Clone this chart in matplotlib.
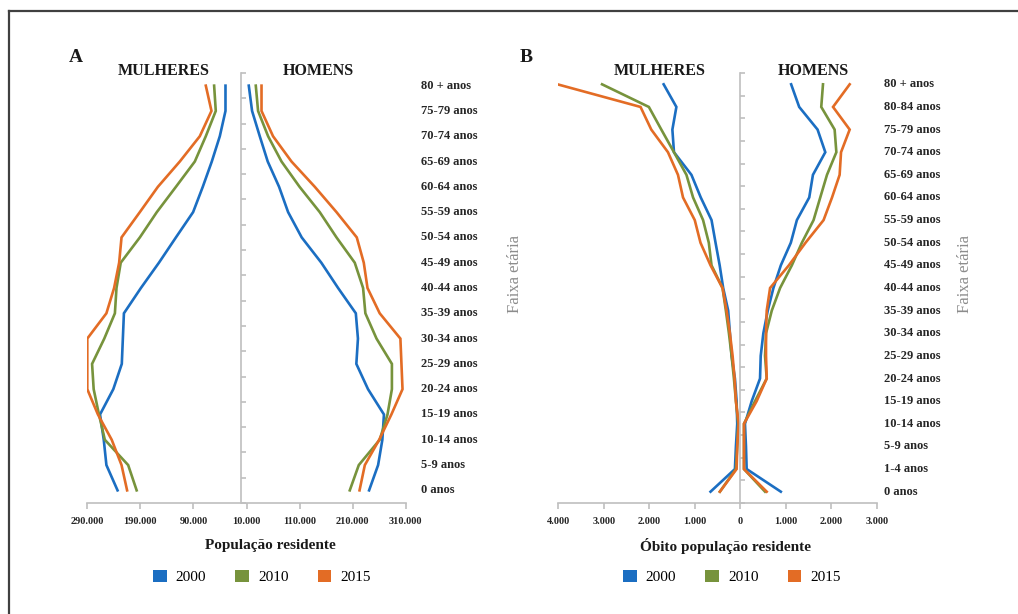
import matplotlib
matplotlib.use("Agg")
import matplotlib.pyplot as plt
from matplotlib.lines import Line2D
from matplotlib.patches import Patch
from matplotlib.ticker import FixedLocator, FuncFormatter
from matplotlib.transforms import blended_transform_factory

plt.rcParams['font.family'] = ['Liberation Serif', 'DejaVu Serif']

years = ['2000', '2010', '2015']
colors = ['#1b6ec2', '#77933c', '#e36c25']

# Panel A: resident population, age groups from bottom to top
ages_a = ['0 anos', '5-9 anos', '10-14 anos', '15-19 anos', '20-24 anos', '25-29 anos',
          '30-34 anos', '35-39 anos', '40-44 anos', '45-49 anos', '50-54 anos',
          '55-59 anos', '60-64 anos', '65-69 anos', '70-74 anos', '75-79 anos', '80 + anos']
# thousands
mulheres_2000 = [233, 254, 259, 266, 241, 225, 223, 221, 189, 155, 123, 90.6, 72.4, 55.4, 40.3, 29.6, 29.6]
mulheres_2010 = [197, 213, 257, 268, 278, 281, 258, 238, 235, 227, 191, 159, 123, 87.4, 66.7, 47.9, 51]
mulheres_2015 = [215, 225.5, 244, 270, 290, 290, 290, 254, 239.5, 230, 225.5, 191, 157, 115.7, 78, 56, 66.7]
homens_2000 = [241, 258, 266, 269, 239, 217, 220, 216, 182.6, 151, 114, 88.4, 71.4, 50, 35, 20.5, 14.3]
homens_2010 = [204.6, 221.6, 261, 275.7, 284, 284, 255, 234, 229.7, 214, 179.6, 148, 110, 76, 50.7, 31.8, 27.5]
homens_2015 = [223, 233, 260, 283, 304, 302, 300, 261, 238, 231, 217.8, 179.6, 138.7, 94.8, 60, 38.3, 38.3]

# Panel B: deaths of resident population
ages_b = ['0 anos', '1-4 anos', '5-9 anos', '10-14 anos', '15-19 anos', '20-24 anos',
          '25-29 anos', '30-34 anos', '35-39 anos', '40-44 anos', '45-49 anos',
          '50-54 anos', '55-59 anos', '60-64 anos', '65-69 anos', '70-74 anos',
          '75-79 anos', '80-84 anos', '80 + anos']
obito_m_2000 = [653, 117, 95, 66, 80, 117, 190, 227, 265, 375, 452, 543, 631, 868, 1073, 1457, 1492, 1404, 1684]
obito_m_2010 = [448, 95, 66, 44, 95, 139, 190, 249, 316, 389, 631, 691, 817, 1037, 1183, 1457, 1735, 2009, 3038]
obito_m_2015 = [448, 80, 66, 35, 95, 124, 168, 227, 300, 389, 653, 874, 1000, 1258, 1369, 1589, 1956, 2192, 4018]
obito_h_2000 = [892, 141, 126, 104, 252, 435, 450, 508, 605, 729, 892, 1112, 1245, 1517, 1598, 1870, 1700, 1296, 1119]
obito_h_2010 = [545, 82, 82, 82, 324, 582, 545, 567, 693, 876, 1134, 1355, 1612, 1759, 1907, 2113, 2075, 1781, 1819]
obito_h_2015 = [582, 82, 82, 82, 361, 582, 567, 567, 582, 656, 1068, 1435, 1832, 2018, 2185, 2216, 2406, 2040, 2406]

W, H = 1018, 614
fig = plt.figure(figsize=(W / 100, H / 100), dpi=100)


def px(x, y):
    return x / W, 1 - y / H


def thousands(v, pos):
    s = f"{abs(int(round(v))):,}".replace(",", ".")
    return s


def setup(ax, n, xlim, xticks):
    ax.set_xlim(*xlim)
    ax.set_ylim(-0.5, n - 0.5)
    for s in ['top', 'right']:
        ax.spines[s].set_visible(False)
    ax.spines['left'].set_position(('data', 0))
    ax.spines['left'].set_color('#bfbfbf')
    ax.spines['bottom'].set_color('#bfbfbf')
    ax.spines['left'].set_linewidth(1.2)
    ax.spines['bottom'].set_linewidth(1.2)
    ax.xaxis.set_major_locator(FixedLocator(xticks))
    ax.xaxis.set_major_formatter(FuncFormatter(thousands))
    ax.yaxis.set_major_locator(FixedLocator([k - 0.5 for k in range(n + 1)]))
    ax.set_yticklabels([])
    ax.tick_params(axis='y', direction='in', length=3.5, color='#bfbfbf', width=1.2)
    ax.tick_params(axis='x', direction='out', length=4, color='#bfbfbf', width=1.2,
                   pad=6, labelsize=7.5)
    for t in ax.get_xticklabels():
        t.set_fontweight('bold')
        t.set_color('#262626')
    ax.patch.set_alpha(0)


# Panel A
axA = fig.add_axes([87.3 / W, 1 - 503 / H, 318.4 / W, 430 / H])
setup(axA, len(ages_a), (-290000, 310000), [-290000, -190000, -90000, 10000, 110000, 210000, 310000])
ya = list(range(len(ages_a)))
for vals, c in zip([mulheres_2000, mulheres_2010, mulheres_2015], colors):
    axA.plot([-v * 1000 for v in vals], ya, color=c, lw=1.9, solid_joinstyle='miter')
for vals, c in zip([homens_2000, homens_2010, homens_2015], colors):
    axA.plot([v * 1000 for v in vals], ya, color=c, lw=1.9, solid_joinstyle='miter')
trA = blended_transform_factory(fig.transFigure, axA.transData)
for k, lab in enumerate(ages_a):
    axA.text(421 / W, k, lab, transform=trA, ha='left', va='center',
             fontsize=9, fontweight='bold', color='#262626')

# Panel B
axB = fig.add_axes([558.3 / W, 1 - 503 / H, 318.4 / W, 430 / H])
setup(axB, len(ages_b), (-4000, 3000), [-4000, -3000, -2000, -1000, 0, 1000, 2000, 3000])
yb = list(range(len(ages_b)))
for vals, c in zip([obito_m_2000, obito_m_2010, obito_m_2015], colors):
    axB.plot([-v for v in vals], yb, color=c, lw=1.9, solid_joinstyle='miter')
for vals, c in zip([obito_h_2000, obito_h_2010, obito_h_2015], colors):
    axB.plot(vals, yb, color=c, lw=1.9, solid_joinstyle='miter')
trB = blended_transform_factory(fig.transFigure, axB.transData)
for k, lab in enumerate(ages_b):
    axB.text(884 / W, k, lab, transform=trB, ha='left', va='center',
             fontsize=9, fontweight='bold', color='#262626')

# headings and labels
for x, y, s, fs in [(76, 57, 'A', 14), (526, 57, 'B', 14),
                    (164, 71, 'MULHERES', 11.5), (318, 71, 'HOMENS', 11.5),
                    (660, 71, 'MULHERES', 11.5), (813, 71, 'HOMENS', 11.5),
                    (270, 546, 'População residente', 11),
                    (726, 546, 'Óbito população residente', 11)]:
    fig.text(*px(x, y), s, ha='center', va='center', fontsize=fs,
             fontweight='bold', color='#1a1a1a')
for x in [515, 965]:
    fig.text(*px(x, 274), 'Faixa etária', rotation=90, ha='center', va='center',
             fontsize=12, color='#8c8c8c')

# legends
handles = [Patch(facecolor=c, edgecolor='none', label=y) for c, y in zip(colors, years)]
for cx in [262, 732]:
    fig.legend(handles=handles, loc='center', bbox_to_anchor=px(cx, 577), ncol=3,
               frameon=False, fontsize=11, handlelength=0.9, handleheight=0.9,
               handletextpad=0.6, columnspacing=1.9)

# frame
fig.add_artist(Line2D([9 / W, 1], [1 - 11 / H, 1 - 11 / H], transform=fig.transFigure,
                      color='#404040', lw=1.6))
fig.add_artist(Line2D([9 / W, 9 / W], [0, 1 - 11 / H], transform=fig.transFigure,
                      color='#404040', lw=1.6))

fig.savefig('out.png', dpi=100, facecolor='white')
